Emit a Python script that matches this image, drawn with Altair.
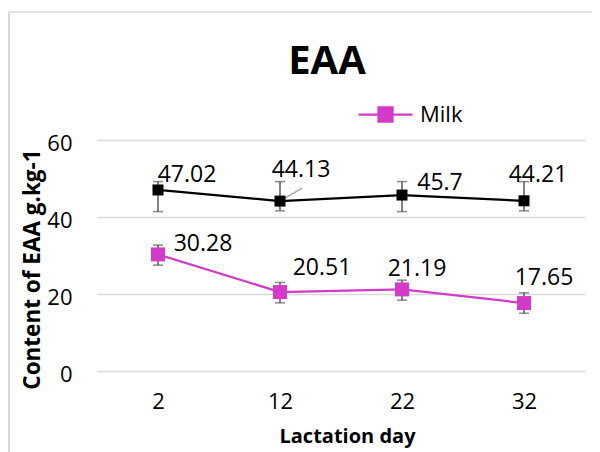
import altair as alt
import pandas as pd

# ---- data ----
days = ["2", "12", "22", "32"]
milk = [30.28, 20.51, 21.19, 17.65]
milk_hi = [32.7, 23.0, 23.6, 20.3]
milk_lo = [27.5, 17.7, 18.4, 15.0]
other = [47.02, 44.13, 45.7, 44.21]
other_hi = [49.2, 49.2, 49.2, 49.2]
other_lo = [41.4, 41.6, 41.4, 41.6]
y_ticks = [0, 20, 40, 60]

# ---- styling ----
PINK = "#d33ac8"
BLACK = "#000000"
ERR = "#595959"
GRID = "#d9d9d9"
FONT = "Open Sans"

# label offsets (dx, dy) per point, styling only
label_off = {
    "Milk": [(45, -3), (42, -17), (15, -13), (20, -18)],
    "Other": [(29, -8), (21, -24), (38, -5), (14, -19)],
}

rows = []
for name, vals, his, los in [("Milk", milk, milk_hi, milk_lo),
                             ("Other", other, other_hi, other_lo)]:
    for i, (d, v, h, l) in enumerate(zip(days, vals, his, los)):
        rows.append(dict(series=name, day=d, idx=i, value=v, hi=h, lo=l,
                         label=f"{v:g}"))
df = pd.DataFrame(rows)

x_enc = alt.X(
    "day:O", sort=days,
    scale=alt.Scale(type="point", padding=0.5),
    axis=alt.Axis(title="Lactation day", labelAngle=0, labelFont=FONT,
                  labelFontSize=22, labelColor=BLACK, labelPadding=20,
                  ticks=False, domain=False, grid=False,
                  titleFont=FONT, titleFontSize=20, titleFontWeight="bold",
                  titleColor=BLACK, titleBaseline="alphabetic", titleY=71,
                  titleX=250),
)
y_axis = alt.Axis(title="Content of EAA g.kg-1", values=y_ticks,
                  labelFont=FONT, labelFontSize=22, labelColor=BLACK,
                  labelPadding=25, labelOffset=3, ticks=False, domain=False,
                  grid=True, gridColor=GRID, gridWidth=1.5,
                  titleFont=FONT, titleFontSize=22.5, titleFontWeight="bold",
                  titleColor=BLACK, titleBaseline="alphabetic",
                  titleX=-58, titleY=129)
y_scale = alt.Scale(domain=[0, 60], nice=False)

base = alt.Chart(df)
layers = []

# error bars
for name in ["Other", "Milk"]:
    b = base.transform_filter(alt.datum.series == name)
    layers.append(b.mark_rule(color=ERR, strokeWidth=1.5).encode(
        x=x_enc, y=alt.Y("lo:Q", scale=y_scale, axis=y_axis), y2="hi:Q"))
    layers.append(b.mark_tick(color=ERR, thickness=1.5, size=10).encode(
        x=x_enc, y=alt.Y("hi:Q", scale=y_scale)))
    layers.append(b.mark_tick(color=ERR, thickness=1.5, size=10).encode(
        x=x_enc, y=alt.Y("lo:Q", scale=y_scale)))

# leader line for 44.13
layers.append(base.transform_filter((alt.datum.series == "Other") & (alt.datum.idx == 1))
              .mark_rule(color="#a6a6a6", strokeWidth=1.5, x2Offset=22, y2Offset=-13)
              .encode(x=x_enc, x2="day:O", y=alt.Y("value:Q", scale=y_scale), y2="value:Q"))

# lines
layers.append(base.transform_filter(alt.datum.series == "Other")
              .mark_line(color=BLACK, strokeWidth=2.25)
              .encode(x=x_enc, y=alt.Y("value:Q", scale=y_scale)))
layers.append(base.transform_filter(alt.datum.series == "Milk")
              .mark_line(color=PINK, strokeWidth=2.25)
              .encode(x=x_enc, y=alt.Y("value:Q", scale=y_scale)))

# markers
layers.append(base.transform_filter(alt.datum.series == "Other")
              .mark_square(color=BLACK, size=121, opacity=1, filled=True)
              .encode(x=x_enc, y=alt.Y("value:Q", scale=y_scale)))
layers.append(base.transform_filter(alt.datum.series == "Milk")
              .mark_square(size=196, opacity=1, filled=True)
              .encode(x=x_enc, y=alt.Y("value:Q", scale=y_scale),
                      color=alt.Color("series:N",
                                      scale=alt.Scale(domain=["Milk"], range=[PINK]),
                                      legend=alt.Legend(
                                          values=["Milk"], title=None, orient="none",
                                          legendX=260, legendY=-54, padding=0,
                                          symbolType="M-1,0H1M-0.26,-0.26H0.26V0.26H-0.26Z",
                                          symbolSize=2916, symbolStrokeWidth=2.25,
                                          symbolStrokeColor=PINK, symbolFillColor=PINK,
                                          labelFont=FONT, labelFontSize=22,
                                          labelColor=BLACK, labelOffset=6))))

# data labels
for name in ["Other", "Milk"]:
    for i, (dx, dy) in enumerate(label_off[name]):
        layers.append(base.transform_filter((alt.datum.series == name) & (alt.datum.idx == i))
                      .mark_text(font=FONT, fontSize=23, color=BLACK, align="center",
                                 baseline="alphabetic", dx=dx, dy=dy)
                      .encode(x=x_enc, y=alt.Y("value:Q", scale=y_scale), text="label:N"))

# outer chart frame (decoration)
frame_df = pd.DataFrame({"k": [0]})
layers.append(alt.Chart(frame_df).mark_rule(color=GRID, strokeWidth=2).encode(
    x=alt.value(-88), y=alt.value(-128), y2=alt.value(400)))
layers.append(alt.Chart(frame_df).mark_rule(color=GRID, strokeWidth=1.5).encode(
    x=alt.value(-88), x2=alt.value(600), y=alt.value(-128)))

chart = alt.layer(*layers).properties(
    width=488, height=231,
    title=alt.Title("EAA", font=FONT, fontSize=40, fontWeight="bold", color=BLACK,
                    anchor="middle", baseline="alphabetic", offset=0, dx=-14, dy=103),
    autosize=alt.AutoSizeParams(type="none"),
    padding={"left": 89, "top": 132, "right": 7, "bottom": 81},
).configure_view(stroke=None)

chart.save("out.html", embed_options={"renderer": "svg", "actions": False})
